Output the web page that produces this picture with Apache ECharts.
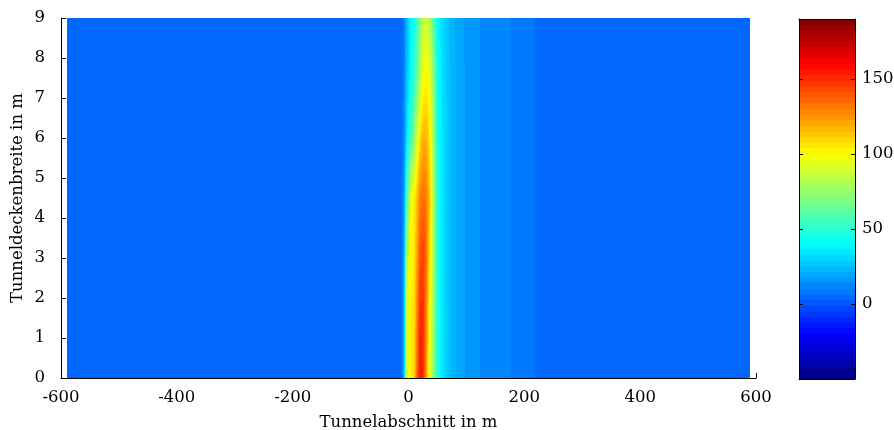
<!DOCTYPE html>
<html><head><meta charset="utf-8">
<script src="https://cdn.jsdelivr.net/npm/echarts@6/dist/echarts.min.js"></script>
<style>html,body{margin:0;padding:0;background:#fff}#c{width:894px;height:430px}</style>
</head><body><div id="c"></div>
<script>
// Grid nodes along the tunnel (m) and across the ceiling width (m)
const xNodes = [-590, -15, -8, -4, 0, 5, 10, 15, 20, 25, 30, 35, 40, 45, 50, 55, 62, 72, 85, 105, 130, 160, 190, 215, 230, 590];
const yNodes = [0, 1.5, 3, 4.5, 6, 7.5, 9];
// Values read at the nodes, one list per width position (bottom to top)
const rowY0   = [3, 3, 20, 85, 100, 104, 110, 136, 156, 150, 126, 100, 82, 64, 50, 40, 32, 25, 20, 16, 13, 11, 9, 7, 4, 3];
const rowY1_5 = [3, 3, 20, 85, 100, 104, 106, 130, 152, 150, 130, 104, 84, 66, 50, 40, 32, 25, 20, 16, 13, 11, 9, 7, 4, 3];
const rowY3   = [3, 3, 18, 70, 98, 102, 104, 122, 142, 146, 136, 112, 88, 68, 50, 40, 32, 25, 20, 16, 13, 11, 9, 7, 4, 3];
const rowY4_5 = [3, 3, 15, 48, 80, 96, 102, 115, 130, 134, 132, 118, 92, 70, 50, 40, 32, 25, 20, 16, 13, 11, 9, 7, 4, 3];
const rowY6   = [3, 3, 12, 30, 45, 58, 70, 88, 108, 118, 118, 108, 88, 66, 48, 39, 32, 25, 20, 16, 13, 11, 9, 7, 4, 3];
const rowY7_5 = [3, 3, 10, 24, 34, 42, 50, 62, 82, 96, 102, 98, 82, 62, 46, 38, 31, 25, 20, 16, 13, 11, 9, 7, 4, 3];
const rowY9   = [3, 3, 8, 22, 32, 38, 44, 55, 72, 85, 90, 84, 68, 52, 42, 36, 30, 24, 19, 16, 13, 11, 9, 7, 4, 3];
const rows = [rowY0, rowY1_5, rowY3, rowY4_5, rowY6, rowY7_5, rowY9];
// Colour bar range and tick labels
const cbMin = -50, cbMax = 190, cbLevels = 64;
const cbTicks = [0, 50, 100, 150];
const xTicks = [-600, -400, -200, 0, 200, 400, 600];
const yTicks = [0, 1, 2, 3, 4, 5, 6, 7, 8, 9];

function clamp(v){ return Math.max(0, Math.min(1, v)); }
function jet(t){
  const r = clamp(1.5 - Math.abs(4*t - 3));
  const g = clamp(1.5 - Math.abs(4*t - 2));
  const b = clamp(1.5 - Math.abs(4*t - 1));
  return 'rgb(' + Math.round(r*255) + ',' + Math.round(g*255) + ',' + Math.round(b*255) + ')';
}
function colorOf(v){
  let idx = Math.floor((v - cbMin) / (cbMax - cbMin) * cbLevels);
  idx = Math.max(0, Math.min(cbLevels - 1, idx));
  return jet((idx + 0.5) / cbLevels);
}

// Quads between neighbouring nodes: [x0, x1, y0, y1, v(x0,y0), v(x1,y0), v(x0,y1), v(x1,y1)]
const quads = [];
for (let j = 0; j < yNodes.length - 1; j++) {
  for (let i = 0; i < xNodes.length - 1; i++) {
    quads.push([xNodes[i], xNodes[i+1], yNodes[j], yNodes[j+1],
      rows[j][i], rows[j][i+1], rows[j+1][i], rows[j+1][i+1]]);
  }
}
// Colour bar blocks (colormap levels)
const cbData = [];
for (let k = 0; k < cbLevels; k++) {
  const lo = cbMin + (cbMax - cbMin) * k / cbLevels;
  const hi = cbMin + (cbMax - cbMin) * (k + 1) / cbLevels;
  cbData.push([0, 1, lo, hi, (lo + hi) / 2]);
}

const FF = 'DejaVu Serif';
const FS = 16.5;
const black = '#000';

// Interpolated shading inside each quad (like shading interp)
function quadItem(params, api){
  const x0 = api.value(0), x1 = api.value(1), y0 = api.value(2), y1 = api.value(3);
  const v00 = api.value(4), v10 = api.value(5), v01 = api.value(6), v11 = api.value(7);
  const pA = api.coord([x0, y1]);
  const pB = api.coord([x1, y0]);
  const left = Math.round(pA[0]), right = Math.round(pB[0]);
  const top = Math.round(pA[1]), bottom = Math.round(pB[1]);
  const H = bottom - top;
  const S = Math.max(1, Math.round(H / 3));
  const K = 10;
  const children = [];
  for (let s = 0; s < S; s++) {
    const sy0 = top + Math.round(H * s / S);
    const sy1 = top + Math.round(H * (s + 1) / S);
    const f = 1 - ((sy0 + sy1) / 2 - top) / H;
    const vl = v00 + (v01 - v00) * f;
    const vr = v10 + (v11 - v10) * f;
    let fill;
    if (Math.abs(vl - vr) < 0.01) {
      fill = colorOf(vl);
    } else {
      const stops = [];
      for (let k = 0; k <= K; k++) {
        stops.push({ offset: k / K, color: colorOf(vl + (vr - vl) * k / K) });
      }
      fill = new echarts.graphic.LinearGradient(0, 0, 1, 0, stops);
    }
    children.push({
      type: 'rect',
      shape: { x: left, y: sy0, width: right - left, height: sy1 - sy0 },
      style: { fill: fill, stroke: null }
    });
  }
  return { type: 'group', children: children };
}

function rectItem(params, api){
  const p0 = api.coord([api.value(0), api.value(3)]);
  const p1 = api.coord([api.value(1), api.value(2)]);
  const x0 = Math.round(p0[0]), x1 = Math.round(p1[0]);
  const y0 = Math.round(p0[1]), y1 = Math.round(p1[1]);
  return {
    type: 'rect',
    shape: { x: x0, y: y0, width: x1 - x0, height: y1 - y0 },
    style: { fill: colorOf(api.value(4)), stroke: null }
  };
}

const chart = echarts.init(document.getElementById('c'), null, {renderer: 'canvas'});
chart.setOption({
  animation: false,
  backgroundColor: '#fff',
  grid: [
    { left: 61, right: 138, top: 18, bottom: 52, containLabel: false, outerBoundsMode: 'none' },
    { left: 799, right: 39, top: 19, bottom: 51, containLabel: false, outerBoundsMode: 'none' }
  ],
  xAxis: [
    {
      type: 'value', gridIndex: 0, min: xTicks[0], max: xTicks[xTicks.length-1], interval: 200,
      axisLine: { show: true, onZero: false, lineStyle: { color: black, width: 1 } },
      axisTick: { show: true, inside: true, length: 5, lineStyle: { color: black } },
      axisLabel: { color: black, fontFamily: FF, fontSize: FS, margin: 11 },
      splitLine: { show: false },
      name: 'Tunnelabschnitt in m', nameLocation: 'middle', nameGap: 36,
      nameTextStyle: { color: black, fontFamily: FF, fontSize: FS }
    },
    {
      type: 'value', gridIndex: 1, min: 0, max: 1, position: 'bottom', z: 5,
      axisLine: { show: true, onZero: false, lineStyle: { color: black, width: 1 } },
      axisTick: { show: false }, axisLabel: { show: false }, splitLine: { show: false }
    },
    {
      type: 'value', gridIndex: 1, min: 0, max: 1, position: 'top', z: 5,
      axisLine: { show: true, onZero: false, lineStyle: { color: black, width: 1 } },
      axisTick: { show: false }, axisLabel: { show: false }, splitLine: { show: false }
    }
  ],
  yAxis: [
    {
      type: 'value', gridIndex: 0, min: yTicks[0], max: yTicks[yTicks.length-1], interval: 1,
      axisLine: { show: true, onZero: false, lineStyle: { color: black, width: 1 } },
      axisTick: { show: true, inside: true, length: 5, lineStyle: { color: black } },
      axisLabel: { color: black, fontFamily: FF, fontSize: FS, margin: 16 },
      splitLine: { show: false },
      name: 'Tunneldeckenbreite in m', nameLocation: 'middle', nameGap: 35, nameMoveOverlap: false,
      nameTextStyle: { color: black, fontFamily: FF, fontSize: FS }
    },
    {
      type: 'value', gridIndex: 1, min: cbMin, max: cbMax, interval: 50, position: 'right', z: 5,
      axisLine: { show: true, onZero: false, lineStyle: { color: black, width: 1 } },
      axisTick: { show: true, inside: true, length: 4, lineStyle: { color: black } },
      axisLabel: { color: black, fontFamily: FF, fontSize: FS, margin: 7,
        formatter: v => (cbTicks.indexOf(v) >= 0 ? String(v) : '') },
      splitLine: { show: false }
    },
    {
      type: 'value', gridIndex: 1, min: cbMin, max: cbMax, interval: 50, position: 'left', z: 5,
      axisLine: { show: true, onZero: false, lineStyle: { color: black, width: 1 } },
      axisTick: { show: true, inside: true, length: 4, lineStyle: { color: black } },
      axisLabel: { show: false }, splitLine: { show: false }
    }
  ],
  series: [
    {
      type: 'custom', xAxisIndex: 0, yAxisIndex: 0, z: 2,
      renderItem: quadItem,
      encode: { x: [0, 1], y: [2, 3] },
      data: quads
    },
    {
      type: 'custom', xAxisIndex: 1, yAxisIndex: 1, z: 2,
      renderItem: rectItem,
      encode: { x: [0, 1], y: [2, 3] },
      data: cbData
    }
  ]
});
</script></body></html>
